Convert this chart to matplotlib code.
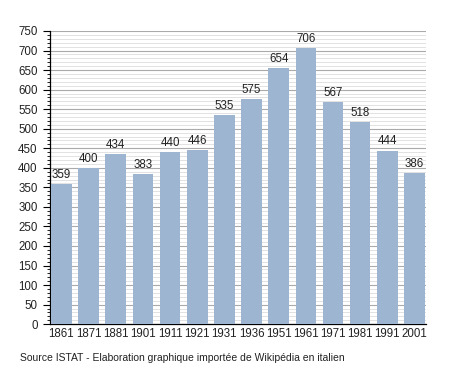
import numpy as np
import matplotlib.pyplot as plt
from matplotlib.ticker import MultipleLocator

plt.rcParams['font.family'] = ['Liberation Sans', 'DejaVu Sans']

years = ['1861', '1871', '1881', '1901', '1911', '1921', '1931',
         '1936', '1951', '1961', '1971', '1981', '1991', '2001']
population = [359, 400, 434, 383, 440, 446, 535, 575, 654, 706, 567, 518, 444, 386]

fig = plt.figure(figsize=(4.55, 3.73), dpi=100)
ax = fig.add_axes([0.110, 0.131, 0.826, 0.786])

x = np.arange(len(years))
ax.bar(x, population, width=0.76, color='#9db5d0', zorder=3)

for xi, v in zip(x, population):
    ax.text(xi, v + 8, str(v), ha='center', va='bottom', fontsize=8.3, color='#222222', zorder=4)

ax.set_ylim(0, 750)
ax.set_xlim(-0.42, len(years) - 0.58)
ax.yaxis.set_major_locator(MultipleLocator(50))
ax.yaxis.set_minor_locator(MultipleLocator(10))
ax.grid(axis='y', which='major', color='#aaaaaa', linewidth=0.8, zorder=0)
ax.grid(axis='y', which='minor', color='#dddddd', linewidth=0.6, zorder=0)

ax.set_xticks(x)
ax.set_xticklabels(years)
ax.tick_params(axis='x', length=0, labelsize=8.3, pad=3, labelcolor='#222222')
ax.tick_params(axis='y', which='major', length=5, width=0.8, labelsize=8.3, pad=4, labelcolor='#222222')
ax.tick_params(axis='y', which='minor', length=2.5, width=0.6)

for s in ['top', 'right']:
    ax.spines[s].set_visible(False)
ax.spines['left'].set_linewidth(0.9)
ax.spines['bottom'].set_linewidth(0.9)

fig.text(0.044, 0.04, "Source ISTAT - Elaboration graphique importée de Wikipédia en italien",
         fontsize=7.5, color='#222222', ha='left', va='center')

fig.savefig('out.png', dpi=100)
